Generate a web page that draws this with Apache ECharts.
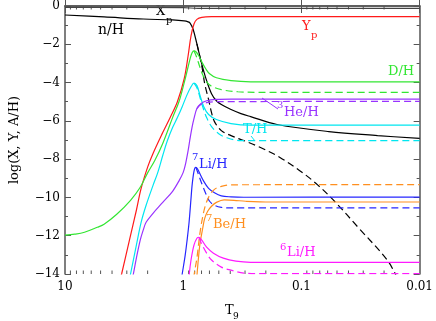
<!DOCTYPE html>
<html>
<head>
<meta charset="utf-8">
<script src="https://cdn.jsdelivr.net/npm/echarts@6/dist/echarts.min.js"></script>
<style>
html, body { margin: 0; padding: 0; background: #fff; }
#chart { width: 436px; height: 321px; }
</style>
</head>
<body>
<div id="chart"></div>
<script>
// abundances vs T9: [T9, log10 value]
// solid = one baryon density, dashed = the other
const xTicksMajor = [10, 1, 0.1, 0.01];
const xTicksMinor = [];
[0.01, 0.1, 1].forEach(d => { for (let k = 2; k <= 9; k++) xTicksMinor.push(+(k * d).toPrecision(2)); });

const xp = [[10, -0.07], [1, -0.09], [0.75, -0.12], [0.01, -0.12]];

const nH = [[10, -0.47], [4.67, -0.57], [2.18, -0.68], [1.23, -0.73], [0.981, -0.78], [0.909, -0.83], [0.875, -0.89],
  [0.826, -1.20], [0.766, -1.98], [0.697, -3.02], [0.634, -3.90], [0.576, -4.58], [0.524, -4.95], [0.476, -5.15],
  [0.394, -5.41], [0.325, -5.62], [0.269, -5.78], [0.161, -6.19], [0.0587, -6.56], [0.0227, -6.77], [0.01, -6.92]];
const nH2 = [[0.766, -1.98], [0.697, -3.12], [0.658, -4.06], [0.610, -4.89], [0.576, -5.57], [0.544, -6.04],
  [0.476, -6.51], [0.394, -6.77], [0.307, -7.03], [0.222, -7.39], [0.152, -7.91], [0.104, -8.59], [0.0752, -9.27],
  [0.0514, -10.26], [0.0332, -11.56], [0.0188, -13.27], [0.0155, -14.2]];

const yp = [[3.5, -14.6], [3.32, -14.0], [2.85, -12.23], [2.49, -10.67], [2.27, -9.53], [1.99, -8.38], [1.80, -7.70],
  [1.49, -6.61], [1.28, -5.78], [1.12, -5.00], [0.981, -3.80], [0.909, -2.60], [0.859, -1.56], [0.811, -0.94],
  [0.766, -0.70], [0.697, -0.59], [0.576, -0.557], [0.01, -0.557]];

const dh = [[10, -11.97], [8.27, -11.92], [6.84, -11.82], [5.33, -11.56], [4.67, -11.40], [3.65, -10.88], [2.79, -10.15],
  [2.31, -9.47], [1.99, -8.69], [1.74, -8.07], [1.49, -7.18], [1.23, -5.83], [1.08, -4.95], [0.962, -3.80],
  [0.875, -2.76], [0.843, -2.45], [0.811, -2.34], [0.781, -2.39], [0.738, -2.60], [0.697, -2.92], [0.645, -3.28],
  [0.598, -3.54], [0.524, -3.75], [0.394, -3.90], [0.269, -3.96], [0.01, -3.96]];
const dh2 = [[0.811, -2.34], [0.766, -2.71], [0.724, -3.18], [0.684, -3.59], [0.634, -3.96], [0.576, -4.19],
  [0.476, -4.37], [0.345, -4.48], [0.222, -4.51], [0.01, -4.51]];

const th = [[2.90, -14.5], [2.79, -14.0], [2.49, -12.49], [2.27, -11.30], [2.06, -10.41], [1.80, -9.37], [1.64, -8.69],
  [1.49, -7.81], [1.36, -7.03], [1.23, -6.35], [1.12, -5.83], [1.02, -5.26], [0.927, -4.63], [0.859, -4.22],
  [0.811, -4.03], [0.766, -4.16], [0.724, -4.63], [0.670, -5.26], [0.610, -5.67], [0.524, -5.93], [0.394, -6.14],
  [0.269, -6.22], [0.01, -6.22]];
const th2 = [[0.811, -4.03], [0.766, -4.27], [0.724, -4.74], [0.684, -5.26], [0.634, -5.83], [0.576, -6.30],
  [0.504, -6.66], [0.433, -6.87], [0.325, -7.03], [0.01, -7.03]];

const he3 = [[2.74, -14.47], [2.64, -14.0], [2.49, -13.17], [2.31, -12.23], [2.18, -11.71], [2.06, -11.30],
  [1.80, -10.83], [1.49, -10.26], [1.23, -9.68], [1.08, -9.11], [1.0, -8.69], [0.962, -8.33], [0.909, -7.55],
  [0.875, -6.92], [0.843, -6.35], [0.811, -5.88], [0.766, -5.36], [0.710, -5.10], [0.634, -4.95], [0.524, -4.88],
  [0.394, -4.86], [0.01, -4.86]];
const he3b = [[0.766, -5.36], [0.710, -5.15], [0.634, -5.05], [0.524, -5.00], [0.01, -4.98]];

const li7 = [[1.04, -14.32], [1.02, -14.0], [0.962, -13.01], [0.927, -12.23], [0.892, -11.30], [0.859, -10.05],
  [0.843, -9.42], [0.826, -8.95], [0.811, -8.64], [0.796, -8.46], [0.781, -8.43], [0.752, -8.54], [0.724, -8.75],
  [0.670, -9.16], [0.610, -9.53], [0.544, -9.76], [0.476, -9.92], [0.394, -9.97], [0.307, -9.99], [0.01, -9.98]];
const li7b = [[0.781, -8.43], [0.738, -8.85], [0.697, -9.27], [0.645, -9.79], [0.598, -10.20], [0.544, -10.41],
  [0.476, -10.52], [0.394, -10.55], [0.01, -10.55]];

const be7 = [[0.78, -14.8], [0.766, -14.1], [0.724, -12.49], [0.684, -11.61], [0.658, -11.09], [0.621, -10.72],
  [0.576, -10.46], [0.524, -10.26], [0.450, -10.13], [0.372, -10.15], [0.296, -10.20], [0.184, -10.24], [0.01, -10.24]];
const be7b = [[0.83, -14.8], [0.811, -14.1], [0.766, -13.17], [0.724, -11.92], [0.684, -11.0], [0.645, -10.36],
  [0.598, -9.89], [0.544, -9.58], [0.476, -9.42], [0.394, -9.34], [0.01, -9.33]];

const li6 = [[0.90, -14.6], [0.892, -14.1], [0.859, -13.27], [0.811, -12.49], [0.766, -12.13], [0.738, -12.08],
  [0.697, -12.23], [0.634, -12.60], [0.555, -12.91], [0.458, -13.17], [0.358, -13.33], [0.269, -13.39], [0.01, -13.39]];
const li6b = [[0.738, -12.08], [0.697, -12.44], [0.634, -12.91], [0.576, -13.27], [0.476, -13.64], [0.394, -13.80],
  [0.307, -13.95], [0.222, -13.98], [0.01, -13.98]];

const FONT = '"DejaVu Serif", serif';
const frame = '#555';
const col = {
  black: '#000', red: '#ff1a1a', green: '#33e633', cyan: '#00e6f0',
  purple: '#9933ff', blue: '#2626ff', orange: '#ff8f1f', magenta: '#ff1aff'
};

const curve = (data, color, dashed) => ({
  type: 'line', data, showSymbol: false, symbol: 'none', smooth: 0.35, silent: true,
  lineStyle: { color, width: 1.2, type: dashed ? [7, 4] : 'solid' }
});

const txt = (x, y, text, color, size) => ({
  type: 'text', x, y, silent: true,
  style: { text, fill: color, font: size + 'px ' + FONT, verticalAlign: 'middle' }
});
const seg = (x1, y1, x2, y2, color) => ({
  type: 'line', silent: true, shape: { x1, y1, x2, y2 }, style: { stroke: color, lineWidth: 1 }
});

const chart = echarts.init(document.getElementById('chart'));
chart.setOption({
  animation: false,
  backgroundColor: '#fff',
  grid: { left: 60, right: 13, top: 5, bottom: 47 },
  xAxis: [{
    type: 'log', logBase: 10, min: 0.01, max: 10, inverse: true, position: 'bottom',
    splitLine: { show: false },
    axisLine: { show: true, lineStyle: { color: frame, width: 1.5 } },
    axisTick: { show: true, inside: true, length: 7, lineStyle: { color: frame } },
    axisLabel: { color: '#000', fontFamily: FONT, fontSize: 12, margin: 7, formatter: v => String(v) }
  }, {
    type: 'log', logBase: 10, min: 0.01, max: 10, inverse: true, position: 'top',
    splitLine: { show: false },
    axisLine: { show: true, lineStyle: { color: frame, width: 1.5 } },
    axisTick: { show: true, inside: true, length: 7, lineStyle: { color: frame } },
    axisLabel: { show: false }
  }],
  yAxis: [{
    type: 'value', min: -14, max: 0, interval: 2, position: 'left',
    name: 'log(X, Y, A/H)', nameLocation: 'middle', nameGap: 44,
    nameTextStyle: { color: '#000', fontFamily: FONT, fontSize: 13 },
    splitLine: { show: false },
    axisLine: { show: true, lineStyle: { color: frame, width: 1.5 } },
    axisTick: { show: true, inside: true, length: 6, lineStyle: { color: frame } },
    minorTick: { show: true, splitNumber: 2, length: 3, lineStyle: { color: frame } },
    axisLabel: { color: '#000', fontFamily: FONT, fontSize: 12, margin: 5,
      formatter: v => v < 0 ? '\u2212' + Math.abs(v) : String(v) }
  }, {
    type: 'value', min: -14, max: 0, interval: 2, position: 'right',
    splitLine: { show: false },
    axisLine: { show: true, lineStyle: { color: frame, width: 1.5 } },
    axisTick: { show: true, inside: true, length: 6, lineStyle: { color: frame } },
    minorTick: { show: true, splitNumber: 2, length: 3, lineStyle: { color: frame } },
    axisLabel: { show: false }
  }],
  series: [
    // minor log ticks, top and bottom
    {
      type: 'custom', silent: true, clip: false, z: 3,
      data: xTicksMinor.map(t => [t, -14]),
      renderItem: (params, api) => {
        const b = api.coord([api.value(0), -14]);
        const t = api.coord([api.value(0), 0]);
        return {
          type: 'group', children: [
            { type: 'line', shape: { x1: b[0], y1: b[1], x2: b[0], y2: b[1] - 3.5 }, style: { stroke: frame, lineWidth: 1 } },
            { type: 'line', shape: { x1: t[0], y1: t[1], x2: t[0], y2: t[1] + 3.5 }, style: { stroke: frame, lineWidth: 1 } }
          ]
        };
      }
    },
    curve(xp, '#444', false),
    curve(nH, col.black, false),
    curve(nH2, col.black, true),
    curve(yp, col.red, false),
    curve(dh, col.green, false),
    curve(dh2, col.green, true),
    curve(th, col.cyan, false),
    curve(th2, col.cyan, true),
    curve(he3, col.purple, false),
    curve(he3b, col.purple, true),
    curve(li7, col.blue, false),
    curve(li7b, col.blue, true),
    curve(be7, col.orange, false),
    curve(be7b, col.orange, true),
    curve(li6, col.magenta, false),
    curve(li6b, col.magenta, true)
  ],
  graphic: [
    txt(98, 30, 'n/H', col.black, 14),
    txt(156, 12, 'X', col.black, 13), txt(166, 20, 'p', col.black, 10),
    txt(302, 27, 'Y', col.red, 13), txt(311, 35, 'p', col.red, 10),
    txt(388, 72, 'D/H', col.green, 13),
    txt(277, 105, '3', col.purple, 10), txt(284, 113, 'He/H', col.purple, 13),
    seg(262, 98, 278, 109, col.purple),
    txt(243, 130, 'T/H', col.cyan, 13),
    seg(251, 136, 255, 141, col.cyan),
    txt(192, 157, '7', col.blue, 10), txt(199, 165, 'Li/H', col.blue, 13),
    txt(206, 218, '7', col.orange, 10), txt(213, 225, 'Be/H', col.orange, 13),
    txt(280, 247, '6', col.magenta, 10), txt(287, 253, 'Li/H', col.magenta, 13),
    txt(225, 311, 'T', col.black, 13), txt(233, 317, '9', col.black, 9)
  ]
});
</script>
</body>
</html>
